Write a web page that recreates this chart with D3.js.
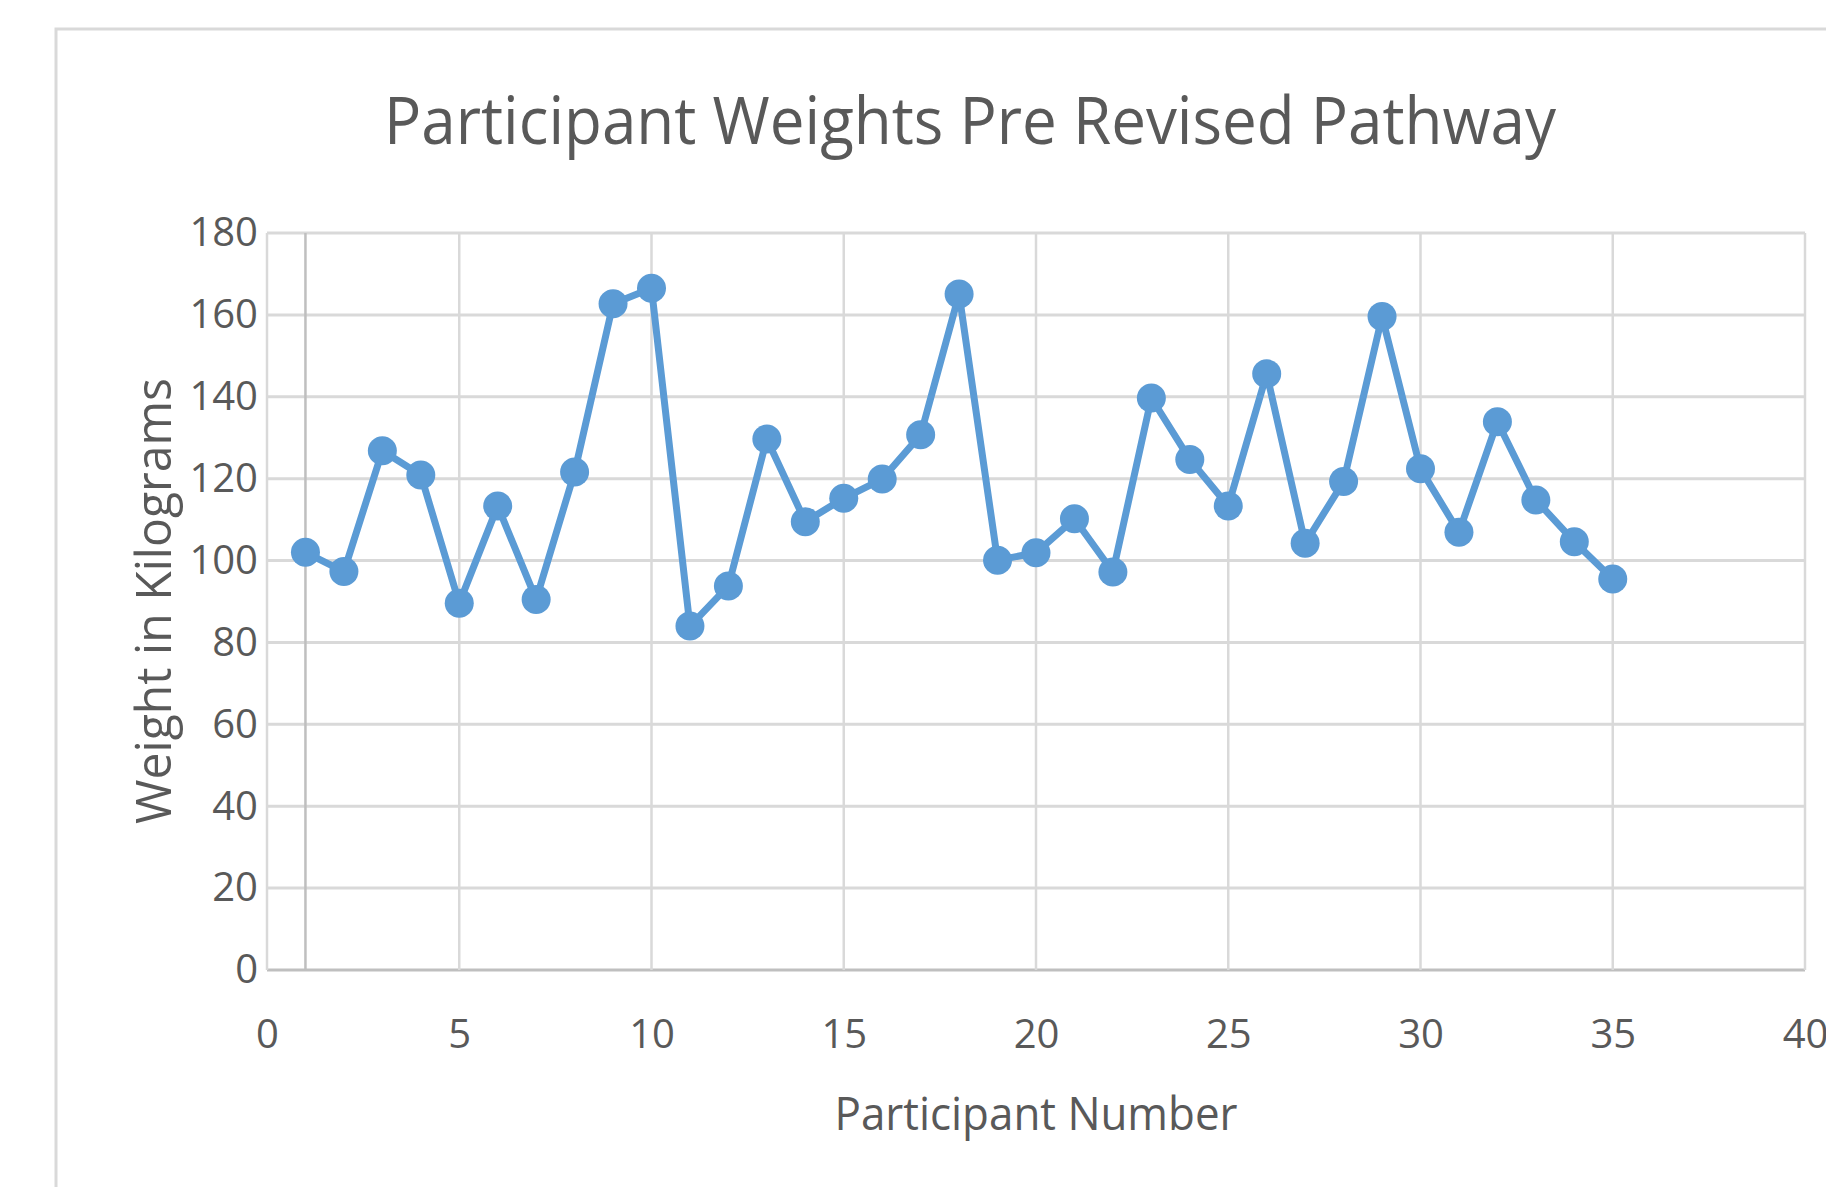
<!DOCTYPE html>
<html>
<head>
<meta charset="utf-8">
<script src="https://cdn.jsdelivr.net/npm/d3@7"></script>
<style>
html,body{margin:0;padding:0;background:#fff;}
svg{display:block;}
text{font-family:"Open Sans",sans-serif;fill:#595959;}
</style>
</head>
<body>
<svg id="chart" width="1826" height="1187"></svg>
<script>
const participants = [1,2,3,4,5,6,7,8,9,10,11,12,13,14,15,16,17,18,19,20,21,22,23,24,25,26,27,28,29,30,31,32,33,34,35];
const weights = [102,97.3,126.8,120.9,89.6,113.3,90.5,121.6,162.7,166.5,84,93.8,129.7,109.5,115.2,119.9,130.7,165.1,100.1,101.9,110.2,97.2,139.7,124.7,113.3,145.6,104.2,119.3,159.6,122.4,106.9,133.9,114.8,104.6,95.5];
const xTicks = [0,5,10,15,20,25,30,35,40];
const yTicks = [0,20,40,60,80,100,120,140,160,180];
const titleText = "Participant Weights Pre Revised Pathway";
const xTitle = "Participant Number";
const yTitle = "Weight in Kilograms";

const svg = d3.select("#chart");
const x = d3.scaleLinear().domain([0,40]).range([267,1805]);
const y = d3.scaleLinear().domain([0,180]).range([970,233]);

// chart area border
svg.append("rect").attr("x",56).attr("y",29).attr("width",2000).attr("height",2000)
  .attr("fill","#fff").attr("stroke","#D9D9D9").attr("stroke-width",3);

// horizontal gridlines
svg.append("g").selectAll("line").data(yTicks).join("line")
  .attr("x1",x(0)).attr("x2",x(40)).attr("y1",d=>y(d)).attr("y2",d=>y(d))
  .attr("stroke",d=>d===0?"#BFBFBF":"#D9D9D9").attr("stroke-width",3);
// vertical gridlines
svg.append("g").selectAll("line").data(xTicks).join("line")
  .attr("x1",d=>x(d)).attr("x2",d=>x(d)).attr("y1",y(180)).attr("y2",y(0))
  .attr("stroke","#D9D9D9").attr("stroke-width",2.5);
// vertical axis line crossing at 1
svg.append("line").attr("x1",x(1)).attr("x2",x(1)).attr("y1",y(180)).attr("y2",y(0))
  .attr("stroke","#BFBFBF").attr("stroke-width",2.5);

// axes via d3
const yAxis = svg.append("g").attr("transform",`translate(${x(0)},0)`)
  .call(d3.axisLeft(y).tickValues(yTicks).tickSize(0).tickPadding(9));
yAxis.select(".domain").remove();
yAxis.selectAll("text").attr("font-size",40).attr("font-family","Open Sans").attr("fill","#595959");

const xAxis = svg.append("g").attr("transform",`translate(0,${y(0)})`)
  .call(d3.axisBottom(x).tickValues(xTicks).tickSize(0).tickPadding(50));
xAxis.select(".domain").remove();
xAxis.selectAll("text").attr("font-size",40).attr("font-family","Open Sans").attr("fill","#595959");

// line and markers
const data = participants.map((p,i)=>({p, w: weights[i]}));
svg.append("path").datum(data)
  .attr("d", d3.line().x(d=>x(d.p)).y(d=>y(d.w)))
  .attr("fill","none").attr("stroke","#5B9BD5").attr("stroke-width",7).attr("stroke-linejoin","round");
svg.append("g").selectAll("circle").data(data).join("circle")
  .attr("cx",d=>x(d.p)).attr("cy",d=>y(d.w)).attr("r",14.5).attr("fill","#5B9BD5");

// titles
svg.append("text").attr("x",970).attr("y",144).attr("text-anchor","middle")
  .attr("font-size",66).attr("textLength",1172).attr("lengthAdjust","spacingAndGlyphs").text(titleText);
svg.append("text").attr("x",1036).attr("y",1130).attr("text-anchor","middle")
  .attr("font-size",46).attr("textLength",403).attr("lengthAdjust","spacingAndGlyphs").text(xTitle);
svg.append("text").attr("transform","translate(171,601) rotate(-90)").attr("text-anchor","middle")
  .attr("font-size",50).attr("textLength",446).attr("lengthAdjust","spacingAndGlyphs").text(yTitle);
</script>
</body>
</html>
